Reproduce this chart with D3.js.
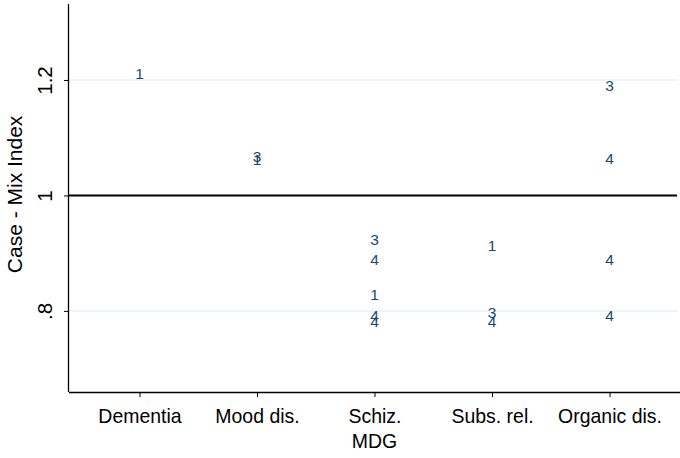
<!DOCTYPE html>
<html>
<head>
<meta charset="utf-8">
<script src="https://cdn.jsdelivr.net/npm/d3@7"></script>
<style>
  html, body { margin: 0; padding: 0; background: #ffffff; }
  svg { display: block; }
</style>
</head>
<body>
<svg id="chart" width="680" height="458"></svg>
<script>
// ---- Data ----
const categories = ["Dementia", "Mood dis.", "Schiz.", "Subs. rel.", "Organic dis."];
const yTicks = [0.8, 1, 1.2];
const yTickLabels = [".8", "1", "1.2"];
// each point: category index, marker label, case-mix index value
const pointCategory = [0, 1, 1, 2, 2, 2, 2, 2, 3, 3, 3, 4, 4, 4, 4];
const pointLabel    = ["1", "3", "1", "3", "4", "1", "4", "4", "1", "3", "4", "3", "4", "4", "4"];
const pointValue    = [1.212, 1.067, 1.062, 0.924, 0.889, 0.829, 0.792, 0.782, 0.913, 0.797, 0.782, 1.191, 1.064, 0.889, 0.792];
const refValue = 1;

(function () {
// ---- Layout ----
const svg = d3.select("#chart");
const mLeft = 69, mRight = 680, mTop = 4, mBottom = 392;
const font = "Arial, 'Liberation Sans', sans-serif";
const markColor = "#1a476f";
const axisFont = 20.5;

const x = d3.scaleLinear().domain([0.4, 5.6]).range([mLeft, mRight]);
const y = d3.scaleLinear().domain([0.6595, 1.3316]).range([mBottom, mTop]);

// gridlines
svg.append("g").selectAll("line").data(yTicks).join("line")
  .attr("x1", mLeft).attr("x2", mRight - 2)
  .attr("y1", d => y(d)).attr("y2", d => y(d))
  .attr("stroke", "#eaf2f3").attr("stroke-width", 1.5);

// reference line
svg.append("line")
  .attr("x1", mLeft).attr("x2", mRight - 3)
  .attr("y1", y(refValue)).attr("y2", y(refValue))
  .attr("stroke", "#000").attr("stroke-width", 2);

// y axis
const yAxis = d3.axisLeft(y).tickValues(yTicks)
  .tickFormat((d, i) => yTickLabels[i]).tickSize(5).tickPadding(9);
const gy = svg.append("g").attr("transform", `translate(${mLeft},0)`).call(yAxis);
gy.select(".domain").attr("d", `M-0.5,${mTop}V${mBottom}`).attr("stroke", "#000").attr("stroke-width", 1.3);
gy.selectAll(".tick line").attr("stroke", "#000");
gy.selectAll(".tick text")
  .attr("font-family", font).attr("font-size", axisFont).attr("fill", "#000")
  .attr("text-anchor", "middle").attr("dy", null).attr("x", null)
  .attr("transform", "translate(-25,0) rotate(-90)")
  .attr("dominant-baseline", "central");

// x axis
const xAxis = d3.axisBottom(x).tickValues(d3.range(1, categories.length + 1))
  .tickFormat(d => categories[d - 1]).tickSize(5).tickPadding(9);
const gx = svg.append("g").attr("transform", `translate(0,${mBottom})`).call(xAxis);
gx.select(".domain").attr("d", `M${mLeft},0.5H${mRight}`).attr("stroke", "#000").attr("stroke-width", 1.3);
gx.selectAll(".tick line").attr("stroke", "#000");
gx.selectAll(".tick text")
  .attr("font-family", font).attr("font-size", axisFont).attr("fill", "#000")
  .attr("y", 31).attr("dy", null)
  .attr("transform", "scale(0.95,1)");

// axis titles
svg.append("g").attr("transform", `translate(${x(3)},448)`)
  .append("text")
  .attr("text-anchor", "middle")
  .attr("transform", "scale(0.95,1)")
  .attr("font-family", font).attr("font-size", axisFont).attr("fill", "#000")
  .text("MDG");
svg.append("text")
  .attr("transform", `translate(21.5,${y(1) - 1}) rotate(-90)`)
  .attr("text-anchor", "middle")
  .attr("font-family", font).attr("font-size", 21).attr("fill", "#000")
  .text("Case - Mix Index");

// marker labels
svg.append("g").selectAll("text").data(pointValue).join("text")
  .attr("x", (d, i) => x(pointCategory[i] + 1))
  .attr("y", d => y(d))
  .attr("text-anchor", "middle")
  .attr("dominant-baseline", "central")
  .attr("font-family", font).attr("font-size", 15.5).attr("fill", markColor)
  .text((d, i) => pointLabel[i]);
})();
</script>
</body>
</html>
